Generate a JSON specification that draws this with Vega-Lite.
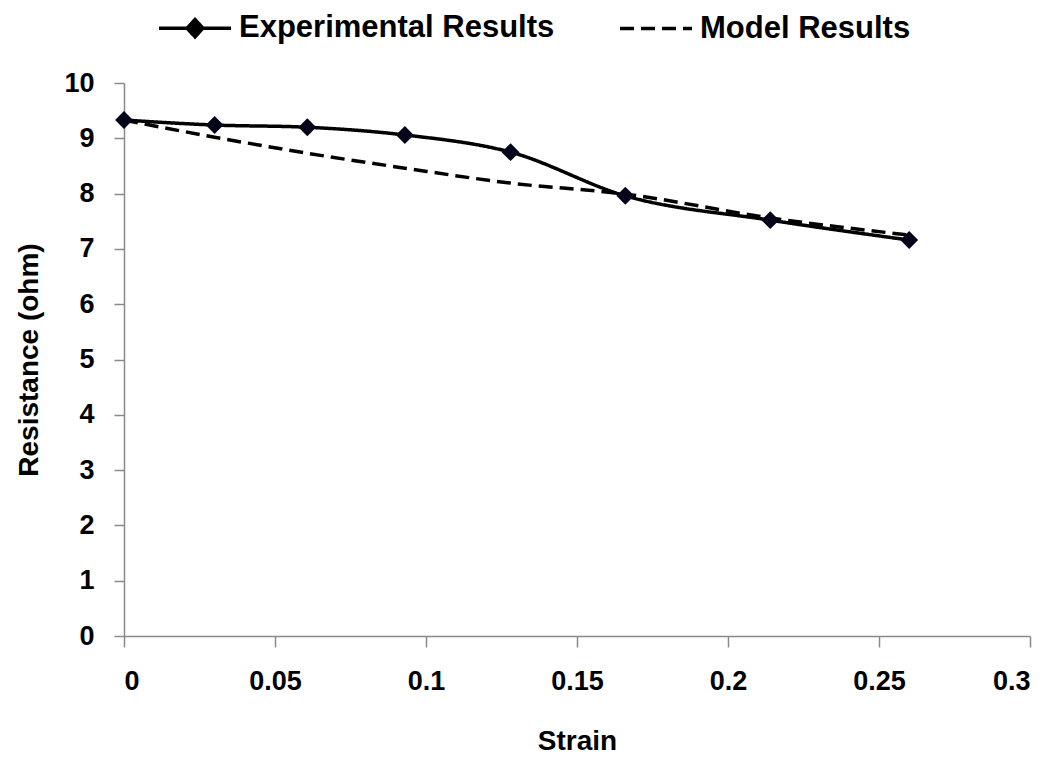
{
  "$schema": "https://vega.github.io/schema/vega-lite/v6.json",
  "width": 906,
  "height": 553,
  "autosize": {"type": "none"},
  "padding": {"left": 124, "top": 83, "right": 33, "bottom": 123},
  "background": "white",
  "config": {
    "view": {"stroke": null},
    "font": "Liberation Sans",
    "axis": {
      "grid": false,
      "domainColor": "#8a8a8a",
      "tickColor": "#8a8a8a",
      "domainWidth": 1.5,
      "tickWidth": 1.5,
      "tickSize": 10,
      "labelFont": "Liberation Sans",
      "labelFontWeight": "bold",
      "labelFontSize": 27,
      "labelColor": "#000",
      "titleFont": "Liberation Sans",
      "titleFontWeight": "bold",
      "titleFontSize": 28,
      "titleColor": "#000"
    },
    "legend": {
      "orient": "none",
      "legendX": 33,
      "legendY": -93,
      "direction": "horizontal",
      "padding": 0,
      "symbolSize": 5184,
      "symbolStrokeWidth": 3.5,
      "symbolStrokeColor": "#000",
      "labelFont": "Liberation Sans",
      "labelFontWeight": "bold",
      "labelFontSize": 31,
      "labelColor": "#000",
      "labelLimit": 600,
      "labelOffset": 6,
      "columnPadding": 58,
      "title": null
    }
  },
  "data": {
    "values": [
      {"strain": 0.0, "resistance": 9.33, "series": "Experimental Results"},
      {"strain": 0.030, "resistance": 9.24, "series": "Experimental Results"},
      {"strain": 0.0607, "resistance": 9.20, "series": "Experimental Results"},
      {"strain": 0.093, "resistance": 9.06, "series": "Experimental Results"},
      {"strain": 0.128, "resistance": 8.75, "series": "Experimental Results"},
      {"strain": 0.166, "resistance": 7.96, "series": "Experimental Results"},
      {"strain": 0.214, "resistance": 7.52, "series": "Experimental Results"},
      {"strain": 0.260, "resistance": 7.16, "series": "Experimental Results"},
      {"strain": 0.0, "resistance": 9.33, "series": "Model Results"},
      {"strain": 0.030, "resistance": 9.02, "series": "Model Results"},
      {"strain": 0.0607, "resistance": 8.73, "series": "Model Results"},
      {"strain": 0.093, "resistance": 8.46, "series": "Model Results"},
      {"strain": 0.128, "resistance": 8.19, "series": "Model Results"},
      {"strain": 0.166, "resistance": 7.99, "series": "Model Results"},
      {"strain": 0.214, "resistance": 7.56, "series": "Model Results"},
      {"strain": 0.260, "resistance": 7.25, "series": "Model Results"}
    ]
  },
  "encoding": {
    "x": {
      "field": "strain",
      "type": "quantitative",
      "scale": {"domain": [0, 0.3], "nice": false, "zero": false},
      "axis": {
        "title": "Strain",
        "values": [0, 0.05, 0.1, 0.15, 0.2, 0.25, 0.3],
        "format": "~g",
        "labelPadding": 21,
        "titlePadding": 33,
        "tickSize": 11
      }
    },
    "y": {
      "field": "resistance",
      "type": "quantitative",
      "scale": {"domain": [0, 10], "nice": false},
      "axis": {
        "title": "Resistance (ohm)",
        "values": [0, 1, 2, 3, 4, 5, 6, 7, 8, 9, 10],
        "labelPadding": 20,
        "titlePadding": 20
      }
    }
  },
  "layer": [
    {
      "mark": {"type": "line", "interpolate": "monotone", "strokeWidth": 3.5, "color": "#000"},
      "encoding": {
        "strokeDash": {
          "field": "series",
          "type": "nominal",
          "scale": {"domain": ["Experimental Results", "Model Results"], "range": [[1, 0], [14, 7]]},
          "legend": {
            "symbolType": "stroke",
            "encode": {
              "symbols": {
                "update": {
                  "shape": [
                    {"test": "datum.value === 'Experimental Results'", "value": "M-1,0L1,0M0,-0.24L0.22,0L0,0.24L-0.22,0Z"},
                    {"value": "stroke"}
                  ],
                  "fill": {"value": "#000"},
                  "stroke": {"value": "#000"},
                  "strokeWidth": {"value": 3.5}
                }
              }
            }
          }
        }
      }
    },
    {
      "transform": [{"filter": "datum.series === 'Experimental Results'"}],
      "mark": {"type": "point", "shape": "diamond", "filled": true, "size": 320, "color": "#05051a", "opacity": 1}
    }
  ]
}
